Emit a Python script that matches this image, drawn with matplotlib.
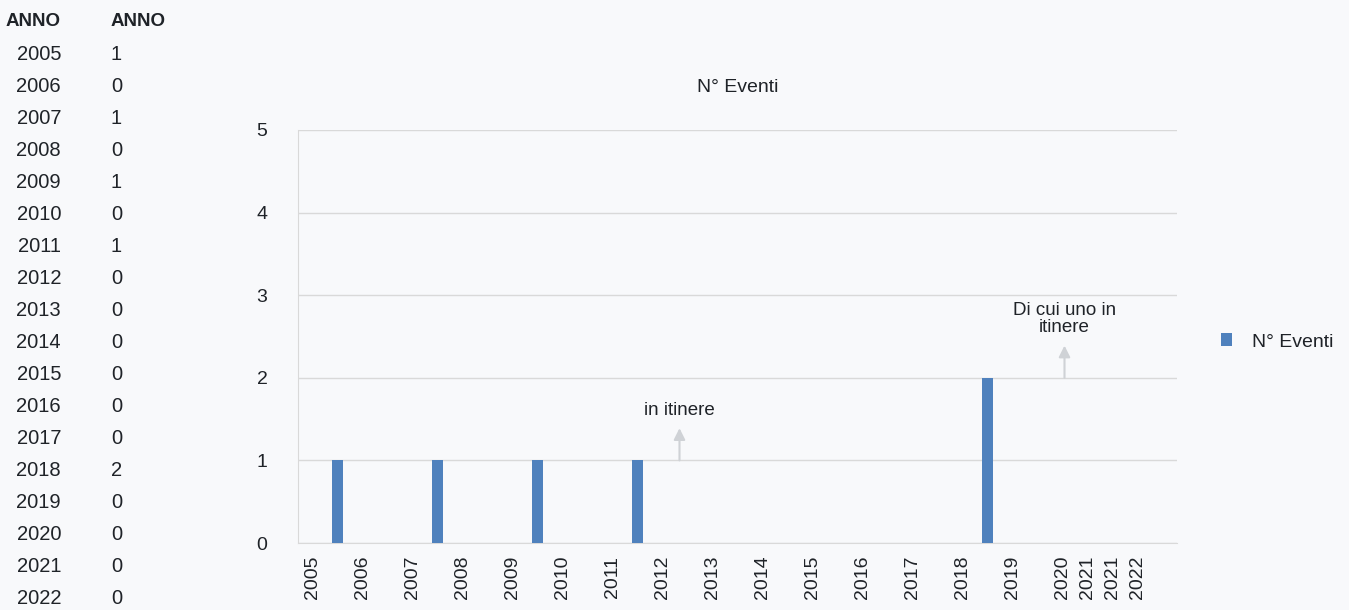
import matplotlib.pyplot as plt
import numpy as np

plt.rcParams['font.family'] = ['Liberation Sans', 'DejaVu Sans']

anni = list(range(2005, 2023))
eventi = [1, 0, 1, 0, 1, 0, 1, 0, 0, 0, 0, 0, 0, 2, 0, 0, 0, 0]

# etichette asse x (come nel foglio originale, con 2021 ripetuto)
tick_pos = [2005, 2006, 2007, 2008, 2009, 2010, 2011, 2012, 2013, 2014,
            2015, 2016, 2017, 2018, 2019, 2020, 2020.5, 2021, 2021.5]
tick_lab = ['2005', '2006', '2007', '2008', '2009', '2010', '2011', '2012',
            '2013', '2014', '2015', '2016', '2017', '2018', '2019', '2020',
            '2021', '2021', '2022']

note = [(2012.35, 1, 'in itinere'), (2020.05, 2, 'Di cui uno in\nitinere')]

BG = '#f8f9fb'
TXT = '#1f2328'
GRID = '#d9d9d9'
BLU = '#4f81bd'

W, H = 1349, 610
fig = plt.figure(figsize=(W / 100, H / 100), dpi=100, facecolor=BG)
ax = fig.add_axes([298 / W, 1 - 543 / H, (1177 - 298) / W, (543 - 130) / H])
ax.set_facecolor(BG)

# tabella a sinistra
fig.text(61 / W, 1 - 22 / H, 'ANNO', ha='right', va='center',
         fontsize=13.5, fontweight='bold', color=TXT)
fig.text(111 / W, 1 - 22 / H, 'ANNO', ha='left', va='center',
         fontsize=13.5, fontweight='bold', color=TXT)
for i, (a, v) in enumerate(zip(anni, eventi)):
    y = 1 - (54 + 32.05 * i) / H
    fig.text(61 / W, y, str(a), ha='right', va='center', fontsize=14.5, color=TXT)
    fig.text(111 / W, y, str(v), ha='left', va='center', fontsize=14.5, color=TXT)

# barre
x = np.array(anni) + 0.5
ax.bar(x, eventi, width=0.22, color=BLU, label='N° Eventi', zorder=3)

ax.set_xlim(2004.72, 2022.3)
ax.set_ylim(0, 5)
ax.set_yticks(range(0, 6))
ax.set_xticks(tick_pos)
ax.set_xticklabels(tick_lab, rotation=90)
ax.tick_params(axis='both', length=0, labelsize=14, labelcolor=TXT)
ax.tick_params(axis='x', pad=9)
ax.tick_params(axis='y', pad=22)
ax.grid(axis='y', color=GRID, lw=1, zorder=0)
for s in ['top', 'right']:
    ax.spines[s].set_visible(False)
ax.spines['left'].set_color(GRID)
ax.spines['bottom'].set_color(GRID)

ax.set_title('N° Eventi', fontsize=14, color=TXT, pad=27)

# note con freccia
for xn, yn, testo in note:
    ax.annotate('', xy=(xn, yn + 0.39), xytext=(xn, yn),
                arrowprops=dict(arrowstyle='-|>', color='#cfd2d6', lw=1.5,
                                mutation_scale=17, shrinkA=0, shrinkB=0))
    ax.text(xn, yn + 0.5, testo, ha='center', va='bottom', fontsize=13.5,
            color=TXT, linespacing=1.05)

ax.legend(loc='center left', bbox_to_anchor=(1203 / W, 1 - 342 / H),
          bbox_transform=fig.transFigure, frameon=False, fontsize=14,
          handlelength=0.6, handleheight=0.6, handletextpad=1.0,
          labelcolor=TXT)

fig.savefig('out.png', dpi=100, facecolor=BG)
